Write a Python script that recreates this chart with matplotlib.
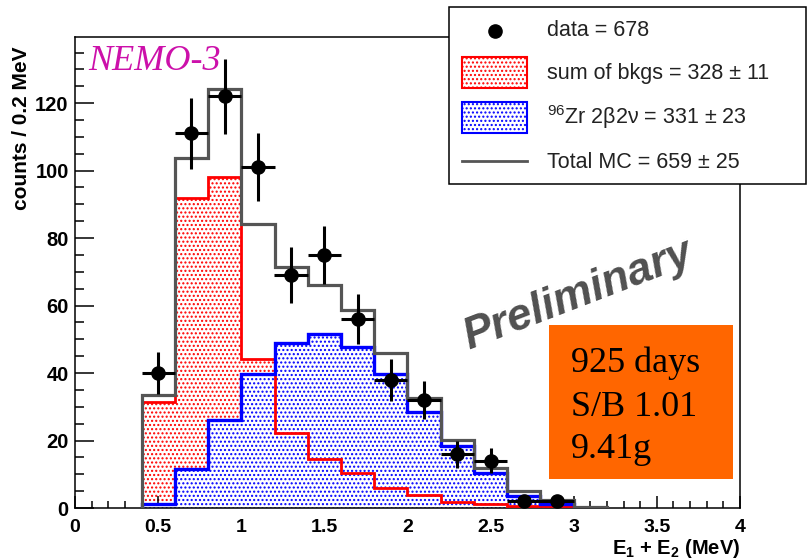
import numpy as np
import matplotlib
matplotlib.use("Agg")
import matplotlib.pyplot as plt
from matplotlib.patches import Rectangle
from matplotlib.ticker import MultipleLocator

plt.rcParams['font.family'] = ['Liberation Sans', 'DejaVu Sans']
plt.rcParams['mathtext.fontset'] = 'custom'
plt.rcParams['mathtext.rm'] = 'Liberation Sans'
plt.rcParams['mathtext.bf'] = 'Liberation Sans:bold'
plt.rcParams['mathtext.default'] = 'regular'
plt.rcParams['hatch.linewidth'] = 1.0

# bin edges (MeV) and histogram contents
edges = [0.4, 0.6, 0.8, 1.0, 1.2, 1.4, 1.6, 1.8, 2.0, 2.2, 2.4, 2.6, 2.8, 3.0, 3.2]
bkg = [31.5, 92.0, 98.2, 44.2, 22.3, 14.4, 10.3, 5.8, 3.8, 1.9, 1.2, 0.6, 0.5, 0.3]
zr96 = [1.2, 11.7, 26.1, 39.7, 48.8, 51.5, 47.8, 39.7, 28.4, 18.4, 10.3, 3.6, 1.2, 0.1]
total_mc = [33.5, 103.6, 124.1, 84.1, 71.5, 66.0, 58.7, 45.8, 32.6, 20.1, 11.8, 5.0, 2.4, 0.4]
data = [40, 111, 122, 101, 69, 75, 56, 38, 32, 16, 14, 2, 2]

legend_labels = ['data = 678', 'sum of bkgs = 328 ± 11',
                 r'$^{96}$Zr 2β2ν = 331 ± 23', 'Total MC = 659 ± 25']
info_lines = ['925 days', 'S/B 1.01', '9.41g']

W, H = 807, 560
fig = plt.figure(figsize=(W / 100, H / 100), dpi=100)
ax = fig.add_axes([75 / W, (H - 508) / H, 665 / W, 471 / H])

edges_a = np.array(edges)
centers = 0.5 * (edges_a[:-1] + edges_a[1:])[:len(data)]
data_a = np.array(data, dtype=float)

# background: dotted red fill + red outline
ax.stairs(bkg, edges, fill=True, facecolor='white', edgecolor='red',
          hatch='....', linewidth=0, zorder=1)
ax.stairs(bkg, edges, baseline=0, color='red', linewidth=2.0, zorder=3)
# signal: dotted blue fill over it
ax.stairs(zr96, edges, fill=True, facecolor='white', edgecolor='blue',
          hatch='....', linewidth=0, zorder=2)
ax.stairs(zr96, edges, baseline=0, color='blue', linewidth=2.4, zorder=4)
# total MC
ax.stairs(total_mc, edges, baseline=0, color='#555555', linewidth=2.3, zorder=5)
# data
ax.errorbar(centers, data_a, yerr=np.sqrt(data_a), xerr=0.1, fmt='o',
            color='black', ms=9.5, elinewidth=2.2, capsize=0, zorder=6)

ax.set_xlim(0, 4)
ax.set_ylim(0, 139.6)
ax.xaxis.set_major_locator(MultipleLocator(0.5))
ax.xaxis.set_minor_locator(MultipleLocator(0.1))
ax.yaxis.set_major_locator(MultipleLocator(20))
ax.yaxis.set_minor_locator(MultipleLocator(5))
ax.xaxis.set_major_formatter(matplotlib.ticker.FuncFormatter(lambda v, p: f'{v:g}'))
ax.tick_params(which='both', direction='in', top=False, right=False, width=1.1)
ax.tick_params(axis='y', which='major', length=14, pad=4.5, labelsize=14.5)
ax.tick_params(axis='y', which='minor', length=6.5)
ax.tick_params(axis='x', which='major', length=9, pad=8, labelsize=14)
ax.tick_params(axis='x', which='minor', length=5)
for lab in ax.get_xticklabels() + ax.get_yticklabels():
    lab.set_fontweight('bold')
for s in ax.spines.values():
    s.set_linewidth(1.1)

ax.set_ylabel('counts / 0.2 MeV', fontsize=15, fontweight='bold', loc='top')
ax.yaxis.set_label_coords(-0.066, 0.979)
ax.set_xlabel(r'E$_1$ + E$_2$ (MeV)', fontsize=14.5, fontweight='bold', loc='right')
ax.xaxis.set_label_coords(1.0, -0.062)

ax.text(13 / 665, (508 - 70) / 471, 'NEMO-3', transform=ax.transAxes,
        family='Liberation Serif', style='italic', fontsize=26,
        color='#CC10AA', ha='left', va='baseline')
ax.text((578 - 75) / 665, (508 - 295) / 471, 'Preliminary', transform=ax.transAxes,
        fontsize=32, fontweight='bold', style='italic', color='#505050',
        rotation=21, ha='center', va='center', zorder=7)

# overlay in pixel coordinates for the legend box and info box
ov = fig.add_axes([0, 0, 1, 1], zorder=10)
ov.set_xlim(0, W)
ov.set_ylim(H, 0)
ov.axis('off')

ov.add_patch(Rectangle((449, 7), 357, 177, facecolor='white', edgecolor='black', lw=1.1))
ov.plot([495], [31], 'o', color='black', ms=9.5)
ov.add_patch(Rectangle((462, 57), 65, 31, facecolor='white', edgecolor='red',
                       hatch='....', lw=1.5))
ov.add_patch(Rectangle((462, 102), 65, 31, facecolor='white', edgecolor='blue',
                       hatch='....', lw=1.5))
ov.plot([462, 527], [161, 161], color='#555555', lw=2.0)
for lab, y in zip(legend_labels, [31, 73, 117, 162]):
    ov.text(547, y, lab, fontsize=15.5, ha='left', va='center', color='#222222')

ov.add_patch(Rectangle((549, 325), 184, 154, facecolor='#FF6600', edgecolor='none'))
for line, y in zip(info_lines, [372, 416, 458]):
    ov.text(571, y, line, family='Liberation Serif', fontsize=26,
            ha='left', va='baseline', color='black')

fig.savefig('out.png', dpi=100)
